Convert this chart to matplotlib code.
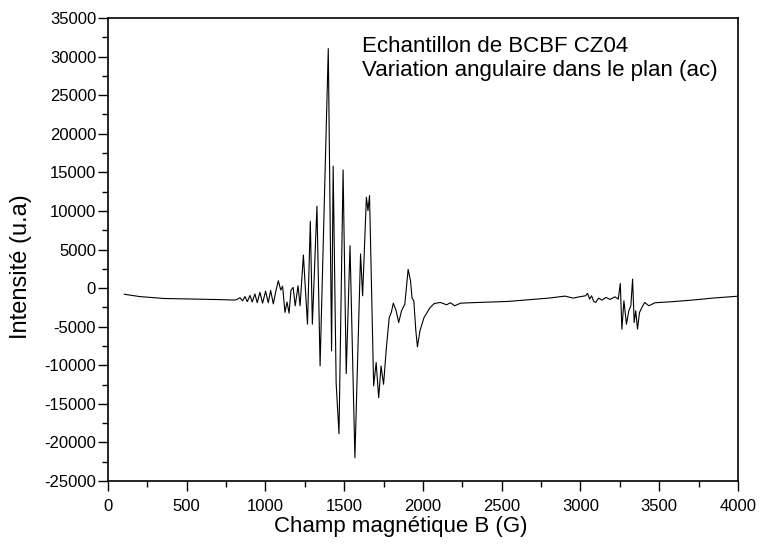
import matplotlib
matplotlib.use("Agg")
import matplotlib.pyplot as plt
from matplotlib.ticker import MultipleLocator

plt.rcParams['font.family'] = ['Liberation Sans', 'DejaVu Sans']
plt.rcParams['axes.unicode_minus'] = False

# Magnetic field (G)
field_B = [
    104, 202, 358, 540, 722, 800, 817, 838, 855, 870, 885, 902, 916, 933, 948,
    965, 982, 1001, 1018, 1033, 1050, 1067, 1082, 1097, 1109, 1124, 1137, 1150,
    1162, 1176, 1189, 1207, 1220, 1241, 1267, 1285, 1298, 1327, 1347, 1399,
    1420, 1430, 1449, 1467, 1493, 1513, 1537, 1568, 1604, 1617, 1641, 1651,
    1661, 1687, 1703, 1719, 1734, 1750, 1768, 1786, 1799, 1812, 1830, 1846,
    1864, 1885, 1906, 1921, 1931, 1942, 1955, 1965, 1981, 2007, 2046, 2072,
    2110, 2150, 2175, 2201, 2240, 2409, 2539, 2798, 2902, 2954, 2993, 3032,
    3045, 3058, 3071, 3084, 3097, 3115, 3136, 3162, 3188, 3219, 3240, 3253,
    3263, 3276, 3292, 3307, 3320, 3331, 3341, 3351, 3362, 3375, 3390, 3408,
    3434, 3473, 3577, 3707, 3837, 4000,
]
# Intensity (u.a)
intensity = [
    -800, -1100, -1350, -1420, -1500, -1550, -1500, -1250, -1650, -1100, -1750,
    -950, -1800, -750, -1900, -550, -1950, -400, -1900, -300, -2050, -300, 950,
    -250, 250, -3150, -1800, -3250, -300, 90, -2300, 300, -2300, 4290, -4680,
    8660, -4680, 10610, -10090, 31040, -8140, 15800, -12380, -18870, 15320,
    -11080, 5500, -21990, 4420, -1000, 11770, 10040, 11990, -12680, -9650,
    -14200, -10090, -12470, -7700, -3810, -3160, -1950, -2940, -4460, -2940,
    -2080, 2420, 950, -1300, -1650, -5540, -7620, -5540, -3810, -2510, -2000,
    -1860, -2160, -1900, -2290, -1950, -1820, -1730, -1300, -1040, -1300,
    -1130, -1000, -690, -1430, -1000, -1730, -1860, -1300, -1560, -1210,
    -1470, -1130, -1430, 600, -5320, -1650, -4680, -2940, -2290, 1170, -4460,
    -2940, -5320, -3160, -2510, -1860, -2290, -1900, -1770, -1560, -1300,
    -1050,
]

x_ticks = [0, 500, 1000, 1500, 2000, 2500, 3000, 3500, 4000]
y_ticks = [-25000, -20000, -15000, -10000, -5000, 0, 5000, 10000, 15000,
           20000, 25000, 30000, 35000]

fig = plt.figure(figsize=(7.6, 5.47), dpi=100)
ax = fig.add_axes([0.142, 0.1207, 0.829, 0.8463])
ax.plot(field_B, intensity, color='black', linewidth=0.8)

ax.set_xlim(0, 4000)
ax.set_ylim(-25000, 35000)
ax.set_xticks(x_ticks)
ax.set_yticks(y_ticks)
ax.xaxis.set_minor_locator(MultipleLocator(250))
ax.yaxis.set_minor_locator(MultipleLocator(2500))
ax.tick_params(which='major', direction='out', length=7, width=1.0,
               labelsize=12, top=False, right=False)
ax.tick_params(which='minor', direction='out', length=4, width=1.0,
               top=False, right=False)
ax.tick_params(axis='x', which='major', pad=6)
ax.tick_params(axis='y', which='major', pad=1.5)
for s in ax.spines.values():
    s.set_linewidth(1.2)

ax.set_xlabel('Champ magnétique B (G)', fontsize=16)
ax.xaxis.set_label_coords(0.465, -0.075)
ax.set_ylabel('Intensité (u.a)', fontsize=17)
ax.yaxis.set_label_coords(-0.121, 0.462)

ax.text(0.403, 0.962, 'Echantillon de BCBF CZ04\nVariation angulaire dans le plan (ac)',
        transform=ax.transAxes, fontsize=16, va='top', ha='left',
        linespacing=1.2)

fig.savefig('out.png', dpi=100)
